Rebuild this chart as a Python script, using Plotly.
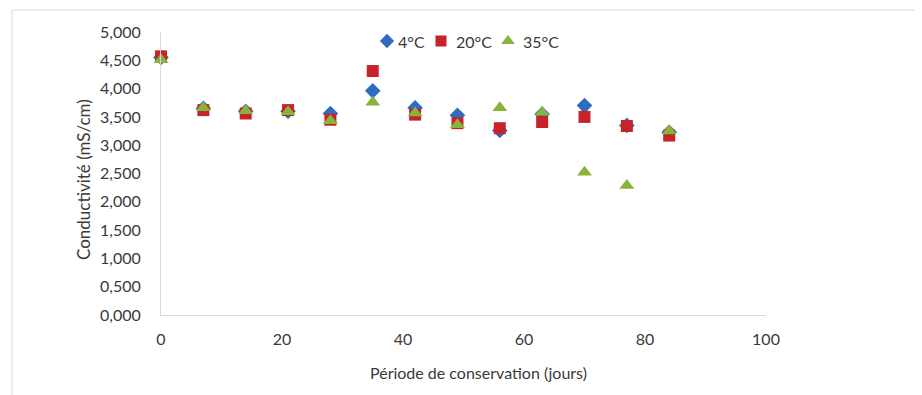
import plotly.graph_objects as go

days = [0, 7, 14, 21, 28, 35, 42, 49, 56, 63, 70, 77, 84]
cond_4C = [4.550, 3.650, 3.600, 3.600, 3.560, 3.960, 3.660, 3.530, 3.260, 3.550, 3.700, 3.350, 3.230]
cond_20C = [4.570, 3.620, 3.560, 3.620, 3.450, 4.310, 3.540, 3.390, 3.300, 3.410, 3.500, 3.340, 3.170]
cond_35C = [4.510, 3.660, 3.610, 3.590, 3.430, 3.760, 3.570, 3.360, 3.660, 3.580, 2.520, 2.290, 3.250]

series_names = ["4°C", "20°C", "35°C"]
x_ticks = [0, 20, 40, 60, 80, 100]
x_title = "Période de conservation (jours)"
y_title = "Conductivité (mS/cm)"

L, T, PW, PH = 153, 24, 605, 283
W, H = 914, 387
# legend entry positions (fraction of plot area)
legend_x = [(387 - 161) / PW, (441 - 161) / PW, (508 - 161) / PW]
legend_text_x = [(396 - 161) / PW, (454 - 161) / PW, (521 - 161) / PW]
legend_y = (315 - 41) / PH

fig = go.Figure()
styles = [
    (cond_4C, "diamond", "#2F6CC0", 12),
    (cond_20C, "square", "#C6232B", 12),
    (cond_35C, "triangle-up", "#8AB33B", 13),
]
font_family = "Lato, 'Open Sans', sans-serif"
txt = "#3a3a3a"
legend_annotations = []
for i, (name, (vals, sym, col, sz)) in enumerate(zip(series_names, styles)):
    fig.add_trace(go.Scatter(
        x=days, y=vals, mode="markers", name=name, showlegend=False,
        marker=dict(symbol=sym, color=col, size=sz, line=dict(width=0)),
        cliponaxis=False,
    ))
    fig.add_trace(go.Scatter(
        x=[legend_x[i]], y=[legend_y], xaxis="x2", yaxis="y2",
        mode="markers", name=name,
        marker=dict(symbol=sym, color=col, size=sz - 1, line=dict(width=0)),
        showlegend=False, hoverinfo="skip", cliponaxis=False,
    ))
    legend_annotations.append(dict(
        text=name, xref="paper", yref="paper", x=legend_text_x[i], y=legend_y,
        xanchor="left", yanchor="middle", showarrow=False,
        font=dict(size=16, color=txt)))

fig.update_layout(
    width=W, height=H,
    margin=dict(l=L, r=W - L - PW, t=T, b=H - T - PH),
    paper_bgcolor="white", plot_bgcolor="white",
    separators=", ",
    font=dict(family=font_family, size=16, color=txt),
    showlegend=False,
    xaxis=dict(range=[0, 100], tickvals=x_ticks, showgrid=False, zeroline=False,
               showline=True, linecolor="#D9D9D9", linewidth=1, ticks="",
               ticklabelstandoff=10,
               tickfont=dict(size=16, color=txt)),
    yaxis=dict(range=[0, 5], dtick=0.5, tickformat=".3f", showgrid=False, zeroline=False,
               showline=True, linecolor="#D9D9D9", linewidth=1, ticks="",
               ticklabelstandoff=16,
               tickfont=dict(size=16, color=txt)),
    xaxis2=dict(range=[0, 1], overlaying="x", visible=False, fixedrange=True),
    yaxis2=dict(range=[0, 1], overlaying="y", visible=False, fixedrange=True),
    annotations=legend_annotations + [
        dict(text=x_title, xref="paper", yref="paper", x=(478 - 161) / PW, y=-(372 - 315) / PH,
             xanchor="center", yanchor="middle", showarrow=False, font=dict(size=16, color=txt)),
        dict(text=y_title, xref="paper", yref="paper", x=-(161 - 84) / PW, y=(315 - 180) / PH,
             xanchor="center", yanchor="middle", textangle=-90, showarrow=False,
             font=dict(size=17, color=txt)),
    ],
    shapes=[dict(type="rect", xref="paper", yref="paper",
                 x0=-(161 - 12) / PW, x1=1 + (918 - 766) / PW,
                 y0=-(395 - 315 + 5) / PH, y1=1 + (32 - 10) / PH,
                 line=dict(color="#D9D9D9", width=1), layer="below")],
)

fig.write_html("out.html")
